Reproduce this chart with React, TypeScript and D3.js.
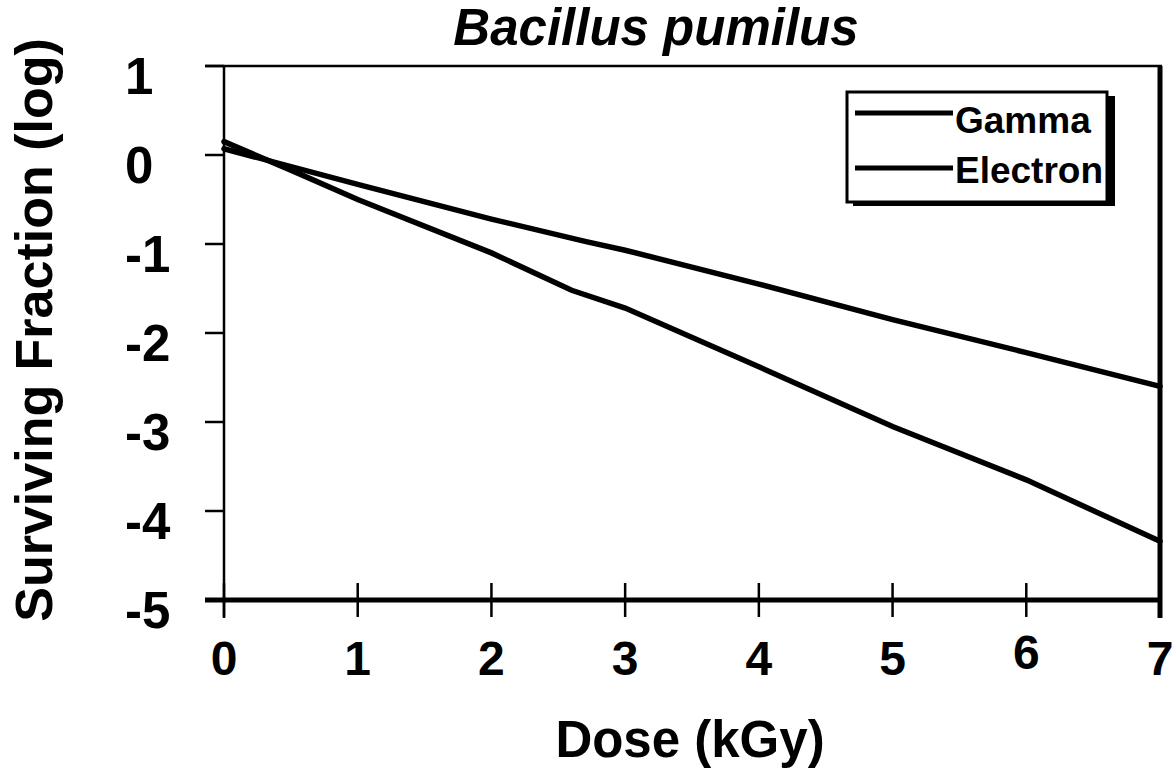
import React from "react";
import * as d3 from "d3";

const doses = [0, 1, 2, 2.7, 3, 4, 5, 6, 7];
const gammaValues = [0.07, -0.33, -0.72, -0.97, -1.07, -1.45, -1.85, -2.22, -2.6];
const electronDoses = [0, 0.5, 1, 2, 2.6, 3, 4, 5, 6, 7];
const electronValues = [0.15, -0.17, -0.5, -1.1, -1.52, -1.72, -2.38, -3.05, -3.65, -4.34];
const xTicks = [0, 1, 2, 3, 4, 5, 6, 7];
const yTicks = [1, 0, -1, -2, -3, -4, -5];
const legendLabels = ["Gamma", "Electron"];

const FONT = "'Liberation Sans', Arial, Helvetica, sans-serif";

export default function App() {
  const W = 1174, H = 778;
  const x = d3.scaleLinear().domain([0, 7]).range([224, 1160]);
  const y = d3.scaleLinear().domain([-5, 1]).range([600, 66]);
  const line = d3.line<[number, number]>().x(d => x(d[0])).y(d => y(d[1]));
  const gamma: [number, number][] = doses.map((d, i) => [d, gammaValues[i]]);
  const electron: [number, number][] = electronDoses.map((d, i) => [d, electronValues[i]]);

  return (
    <svg width={W} height={H} style={{ position: "absolute", left: 0, top: 0, background: "#fff" }} fontFamily={FONT}>
      <rect width={W} height={H} fill="#fff" />
      {/* frame */}
      <line x1={x(0) - 19} x2={x(7) + 2} y1={y(1)} y2={y(1)} stroke="#000" strokeWidth={2.5} />
      <line x1={x(0)} x2={x(0)} y1={y(1)} y2={y(-5) + 18} stroke="#000" strokeWidth={2.5} />
      <line x1={x(7)} x2={x(7)} y1={y(1)} y2={y(-5) + 18} stroke="#000" strokeWidth={5} />
      <line x1={x(0) - 19} x2={x(7) + 2} y1={y(-5)} y2={y(-5)} stroke="#000" strokeWidth={5} />
      {/* y ticks */}
      {yTicks.map(t => (
        <g key={"y" + t}>
          <line x1={x(0) - 19} x2={x(0)} y1={y(t)} y2={y(t)} stroke="#000" strokeWidth={2.5} />
          <text x={125} y={y(t) + 28} textAnchor="start" fontSize={51} fontWeight="bold">{t}</text>
        </g>
      ))}
      {/* x ticks */}
      {xTicks.map(t => (
        <g key={"x" + t}>
          <line x1={x(t)} x2={x(t)} y1={y(-5) - 17} y2={y(-5) + 17} stroke="#000" strokeWidth={2.5} />
          <text x={x(t)} y={t === 6 ? 669 : 675} textAnchor="middle" fontSize={48} fontWeight="bold">{t}</text>
        </g>
      ))}
      {/* data lines */}
      <path d={line(gamma) || ""} fill="none" stroke="#000" strokeWidth={5.5} strokeLinecap="round" />
      <path d={line(electron) || ""} fill="none" stroke="#000" strokeWidth={5.5} strokeLinecap="round" />
      {/* legend */}
      <rect x={853} y={96} width={262} height={110} fill="#000" />
      <rect x={847} y={92} width={260} height={110} fill="#fff" stroke="#000" strokeWidth={3} />
      {legendLabels.map((l, i) => (
        <g key={l}>
          <line x1={855} x2={953} y1={113 + i * 55} y2={113 + i * 55} stroke="#000" strokeWidth={5} />
          <text x={955} y={133 + i * 50} fontSize={37} fontWeight="bold">{l}</text>
        </g>
      ))}
      {/* titles */}
      <text x={656} y={45} textAnchor="middle" fontSize={51} fontWeight="bold" fontStyle="italic">Bacillus pumilus</text>
      <text x={690} y={757} textAnchor="middle" fontSize={51} fontWeight="bold">Dose (kGy)</text>
      <text transform={`translate(52, 330) rotate(-90)`} textAnchor="middle" fontSize={52} fontWeight="bold">Surviving Fraction (log)</text>
    </svg>
  );
}
